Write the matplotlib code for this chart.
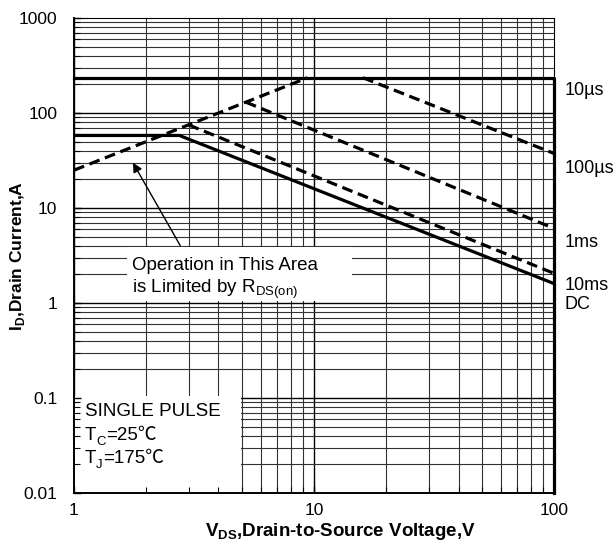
import matplotlib
matplotlib.use('Agg')
import matplotlib.pyplot as plt
import matplotlib.ticker as mticker
from matplotlib.patches import Rectangle
import numpy as np

plt.rcParams['font.family'] = ['Liberation Sans', 'Noto Sans CJK SC', 'DejaVu Sans']
plt.rcParams['mathtext.fontset'] = 'custom'
plt.rcParams['mathtext.rm'] = 'Liberation Sans'
plt.rcParams['mathtext.bf'] = 'Liberation Sans:bold'

# safe operating area (V, A)
rds_v = [1, 9.4]
rds_i = [25, 235]
us10_v = [1, 100, 100]
us10_i = [235, 235, 0.01]
us100_v = [16, 100]
us100_i = [235, 37.5]
ms1_v = [5.2, 100]
ms1_i = [130, 6.1]
ms10_v = [3.0, 100]
ms10_i = [75, 2.05]
dc_v = [1, 2.75, 100]
dc_i = [58, 58, 1.6]

curve_labels = ['10µs', '100µs', '1ms', '10ms', 'DC']
label_y = [171, 26, 4.3, 1.53, 0.97]

xticks = [1, 10, 100]
xticklabels = ['1', '10', '100']
yticks = [0.01, 0.1, 1, 10, 100, 1000]
yticklabels = ['0.01', '0.1', '1', '10', '100', '1000']

fig = plt.figure(figsize=(6.14, 5.45), dpi=100)
ax = fig.add_axes([0.1205, 0.0954, 0.7818, 0.8716])
ax.set_xscale('log')
ax.set_yscale('log')
ax.set_xlim(1, 100)
ax.set_ylim(0.01, 1000)

# grid drawn by hand so the white boxes can sit over it but under the ticks
for d in range(0, 2):
    for m in range(1, 10):
        v = m * 10 ** d
        ax.axvline(v, color='k' if m == 1 else '#333333',
                   lw=1.0 if m == 1 else 0.8, zorder=0.5)
for d in range(-2, 3):
    for m in range(1, 10):
        v = m * 10.0 ** d
        ax.axhline(v, color='k' if m == 1 else '#333333',
                   lw=1.0 if m == 1 else 0.8, zorder=0.5)

ax.add_patch(Rectangle((1, 0.01), 3.97, 0.095, facecolor='white',
                       edgecolor='none', zorder=1))
ax.add_patch(Rectangle((1.66, 1.06), 12.7, 2.78, facecolor='white',
                       edgecolor='none', zorder=1))

lw = 2.3
dash = (0, (3.4, 1.8))
ax.plot(us10_v, us10_i, color='k', lw=lw, solid_joinstyle='round',
        clip_on=False, zorder=3)
ax.plot(dc_v, dc_i, color='k', lw=lw, zorder=3)
ax.plot(rds_v, rds_i, color='k', lw=lw, ls=dash, zorder=3)
ax.plot(us100_v, us100_i, color='k', lw=lw, ls=dash, zorder=3)
ax.plot(ms1_v, ms1_i, color='k', lw=lw, ls=dash, zorder=3)
ax.plot(ms10_v, ms10_i, color='k', lw=lw, ls=dash, zorder=3)

trans = ax.get_yaxis_transform()
for lab, yy in zip(curve_labels, label_y):
    ax.text(1.022, yy, lab, transform=trans, ha='left', va='center',
            fontsize=13, clip_on=False)

ax.annotate('', xy=(1.76, 30), xytext=(2.77, 4.03),
            arrowprops=dict(arrowstyle='-|>', color='k', lw=1.0,
                            mutation_scale=14, shrinkA=0, shrinkB=0),
            zorder=4)
ax.text(1.74, 2.2, 'Operation in This Area', fontsize=13.5, va='baseline',
        zorder=4)
ax.text(1.74, 1.29, r'is Limited by R$_\mathregular{DS(on)}$', fontsize=13.5,
        va='baseline', zorder=4)

fs = 13.5
ax.text(1.11, 0.064, 'SINGLE PULSE', fontsize=fs, va='baseline', zorder=4)


def temp_line(y, sub, rest):
    # T, small subscript, then the rest in the normal font (keeps the ℃ glyph)
    t1 = ax.text(1.11, y, 'T', fontsize=fs, va='baseline', zorder=4)
    t2 = ax.annotate(sub, xy=(1, 0), xycoords=t1, xytext=(0, -3),
                     textcoords='offset points', fontsize=9.5, va='bottom',
                     ha='left', zorder=4)
    ax.annotate(rest, xy=(1, 0), xycoords=(t2, t1), fontsize=fs,
                va='bottom', ha='left', zorder=4)


temp_line(0.036, 'C', '=25℃')
temp_line(0.0207, 'J', '=175℃')

ax.xaxis.set_major_locator(mticker.FixedLocator(xticks))
ax.xaxis.set_major_formatter(mticker.FixedFormatter(xticklabels))
ax.yaxis.set_major_locator(mticker.FixedLocator(yticks))
ax.yaxis.set_major_formatter(mticker.FixedFormatter(yticklabels))
ax.xaxis.set_minor_locator(mticker.LogLocator(base=10, subs=np.arange(2, 10)))
ax.yaxis.set_minor_locator(mticker.LogLocator(base=10, subs=np.arange(2, 10),
                                              numticks=20))
ax.xaxis.set_minor_formatter(mticker.NullFormatter())
ax.yaxis.set_minor_formatter(mticker.NullFormatter())
ax.tick_params(which='both', direction='in', labelsize=12.5, top=False,
               right=False)
ax.tick_params(axis='x', which='both', pad=7)
ax.tick_params(axis='y', which='both', pad=12)
ax.tick_params(which='major', length=5, width=1)
ax.tick_params(which='minor', length=4, width=0.8)

for s in ['left', 'bottom']:
    ax.spines[s].set_linewidth(1.4)
ax.spines['top'].set_linewidth(0.8)
ax.spines['right'].set_linewidth(0.8)

ax.set_xlabel(r'V$_\mathregular{DS}$,Drain-to-Source Voltage,V',
              fontsize=13.5, fontweight='bold')
ax.xaxis.label.set_va('center')
ax.xaxis.set_label_coords(0.556, -0.08)
ax.set_ylabel(r'I$_\mathregular{D}$,Drain Current,A', fontsize=12.5,
              fontweight='bold')
ax.yaxis.label.set_va('center')
ax.yaxis.set_label_coords(-0.117, 0.5)

fig.savefig('out.png', dpi=100)
